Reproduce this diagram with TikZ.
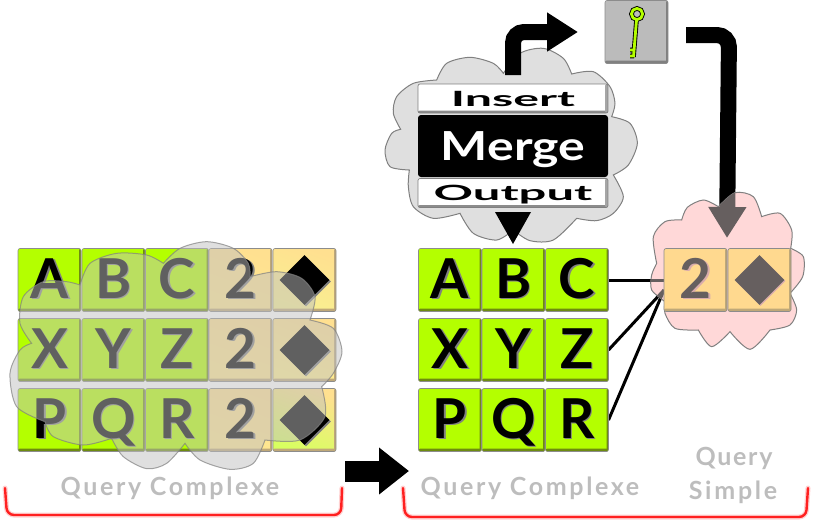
\documentclass[tikz,border=0pt]{standalone}
\usepackage{fontspec}
\usepackage{graphicx}
\usetikzlibrary{arrows.meta,shapes.geometric,shadows,backgrounds}
\setmainfont{Lato}
\definecolor{cellgreen}{HTML}{B4FF00}
\definecolor{cellgreendark}{HTML}{6E8C10}
\definecolor{cellorange}{HTML}{FFD98F}
\definecolor{cellorangetop}{HTML}{FFE090}
\definecolor{cellorangedark}{HTML}{BFA878}
\definecolor{paleA}{HTML}{FFE890}
\definecolor{paleB}{HTML}{F8F090}
\definecolor{paleC}{HTML}{FFF090}
\definecolor{paleD}{HTML}{D8FF60}
\definecolor{dimink}{HTML}{665F5F}
\definecolor{labelgrey}{HTML}{BDBDBD}
\definecolor{cloudgrey}{HTML}{DFDFDF}
\definecolor{cloudpink}{HTML}{FFD8D8}
\definecolor{keygrey}{HTML}{BBBBBB}
\definecolor{bracered}{HTML}{FF2020}
\definecolor{veil}{HTML}{C0C0C0}

% Letter with a small offset shadow behind it
\newcommand{\shadowed}[2]{\leavevmode\rlap{\kern1.6pt\raisebox{-1.6pt}{\textcolor{#2}{#1}}}#1}

\tikzset{
  tile/.style={
    rounded corners=2pt, draw=black!45, line width=.6pt,
    minimum width=63pt, minimum height=63pt, inner sep=0pt, outer sep=0pt,
    text height=36pt, text depth=0pt,
    font=\fontsize{55}{55}\selectfont\bfseries,
    path picture={
      \fill[#1] (path picture bounding box.south west) rectangle
        ([yshift=3pt]path picture bounding box.south east);
      \fill[#1] ([xshift=-2pt]path picture bounding box.south east) rectangle
        (path picture bounding box.north east);
    }},
  greentile/.style={tile=cellgreendark, fill=cellgreen},
  orangetile/.style={tile=cellorangedark, fill=cellorange},
  paletile/.style={tile=cellorangedark, top color=cellorangetop, bottom color=#1, shading angle=-20},
  keytile/.style={tile=black!50, fill=keygrey},
  gem/.style={diamond, aspect=1, minimum width=50pt, minimum height=50pt, inner sep=0pt,
    fill=#1},
  gemshadow/.style={general shadow={shadow xshift=1.5pt, shadow yshift=-1.5pt, fill=gray}},
  slab/.style={rounded corners=2pt, draw=black!50, line width=.7pt, fill=white,
    minimum width=190pt, minimum height=29pt, inner sep=0pt, text height=15pt, text depth=0pt,
    path picture={
      \fill[black!45] (path picture bounding box.south west) rectangle
        ([yshift=2.5pt]path picture bounding box.south east);
      \fill[black!35] ([xshift=-3pt]path picture bounding box.south east) rectangle
        (path picture bounding box.north east);
    }},
  caption/.style={text=labelgrey, inner sep=0pt,
    font=\fontsize{25}{25}\selectfont\bfseries\addfontfeature{LetterSpace=#1}},
  cloudline/.style={draw=black!50, line width=1pt},
  bracket/.style={rounded corners=7pt, line cap=round},
  leftlobes/.style={shift={(0,230)}, x=.33333pt, y=-.33333pt},
  mergelobes/.style={shift={(380,0)}, x=.33333pt, y=-.33333pt},
  pinklobes/.style={shift={(600,0)}, x=.33333pt, y=-.33333pt},
}

\def\leftcloud{
  plot[smooth] coordinates {(490,100) (540,55) (620,35) (700,55) (745,100) (750,140)}
  -- plot[smooth] coordinates {(750,140) (830,125) (905,145) (945,200) (930,270)}
  -- plot[smooth] coordinates {(930,270) (1000,295) (1026,365) (1000,430) (965,470)}
  -- plot[smooth] coordinates {(965,470) (975,560) (900,630) (795,630)}
  -- plot[smooth] coordinates {(795,630) (760,700) (690,718) (600,690) (555,640)}
  -- plot[smooth] coordinates {(555,640) (500,700) (440,716) (370,680) (335,625)}
  -- plot[smooth] coordinates {(335,625) (250,645) (160,620) (135,575)}
  -- plot[smooth] coordinates {(135,575) (50,530) (30,430) (60,360) (95,340)}
  -- plot[smooth] coordinates {(95,340) (60,280) (70,200) (130,155) (200,155) (240,165)}
  -- plot[smooth] coordinates {(240,165) (270,100) (350,70) (440,75) (490,100)}
  -- cycle}

\def\mergecloud{
  plot[smooth] coordinates {(170,240) (200,190) (270,172) (340,190) (370,220)}
  -- plot[smooth] coordinates {(370,220) (420,160) (490,145) (550,175) (575,222)}
  -- plot[smooth] coordinates {(575,222) (640,215) (690,260) (705,310) (695,350)}
  -- plot[smooth] coordinates {(695,350) (750,370) (772,430) (745,495) (700,525)}
  -- plot[smooth] coordinates {(700,525) (730,590) (700,640) (650,662) (590,655)}
  -- plot[smooth] coordinates {(590,655) (520,720) (450,722) (400,690)}
  -- plot[smooth] coordinates {(400,690) (350,720) (280,700) (240,640)}
  -- plot[smooth] coordinates {(240,640) (160,655) (100,620) (85,560) (88,510)}
  -- plot[smooth] coordinates {(88,510) (30,500) (15,450) (35,400) (62,388)}
  -- plot[smooth] coordinates {(62,388) (40,340) (50,290) (100,250) (170,240)}
  -- cycle}

\def\pinkcloud{
  plot[smooth] coordinates {(245,660) (262,622) (310,600) (355,620)}
  -- plot[smooth] coordinates {(355,620) (405,578) (460,590) (485,650)}
  -- plot[smooth] coordinates {(485,650) (540,640) (575,690) (572,745)}
  -- plot[smooth] coordinates {(572,745) (610,770) (608,830) (570,880)}
  -- plot[smooth] coordinates {(570,880) (590,930) (570,975) (510,990)}
  -- plot[smooth] coordinates {(510,990) (450,1048) (390,995)}
  -- plot[smooth] coordinates {(390,995) (335,1040) (295,990)}
  -- plot[smooth] coordinates {(295,990) (225,985) (195,940) (195,905)}
  -- plot[smooth] coordinates {(195,905) (155,870) (155,825) (170,790)}
  -- plot[smooth] coordinates {(170,790) (160,710) (195,665) (245,660)}
  -- cycle}

\def\keyshape{
  (637,14) circle[radius=5.6pt]
  (636.5,20) -- (633.5,57)
  (634,50) -- (630,50)
  (634,56) -- (630,56)}

\begin{document}
\begin{tikzpicture}[x=1pt,y=-1pt]
\useasboundingbox (0,0) rectangle (813,520);

% --- left table ---
\node[greentile] (la) at (49.5,280) {\shadowed{A}{gray}};
\node[greentile] (lb) at (113.5,280) {\shadowed{B}{gray}};
\node[greentile] (lc) at (177,280) {\shadowed{C}{gray}};
\node[paletile=paleA] (ln1) at (240.5,280) {\shadowed{2}{gray}};
\node[paletile=paleB] (ld1) at (304.5,280) {};
\node[greentile] (lx) at (49.5,350) {\shadowed{X}{gray}};
\node[greentile] (ly) at (113.5,350) {\shadowed{Y}{gray}};
\node[greentile] (lz) at (177,350) {\shadowed{Z}{gray}};
\node[paletile=paleA] (ln2) at (240.5,350) {\shadowed{2}{gray}};
\node[paletile=paleC] (ld2) at (304.5,350) {};
\node[greentile] (lp) at (49.5,420) {\shadowed{P}{gray}};
\node[greentile] (lq) at (113.5,420) {\shadowed{Q}{gray}};
\node[greentile] (lr) at (177,420) {\shadowed{R}{gray}};
\node[paletile=paleA] (ln3) at (240.5,420) {\shadowed{2}{gray}};
\node[paletile=paleD] (ld3) at (304.5,420) {};
\node[gem=black, gemshadow] (g1) at (ld1.center) {};
\node[gem=black, gemshadow] (g2) at (ld2.center) {};
\node[gem=black, gemshadow] (g3) at (ld3.center) {};
\fill[leftlobes, fill=veil, fill opacity=.5] \leftcloud;
\draw[leftlobes, cloudline, draw opacity=.7] \leftcloud;

\node[caption=10.5] (leftcap) at (170,488) {Query Complexe};
\draw[bracket, red!60, line width=5pt, opacity=.3] (5,488) -- (7,515) -- (341,515) -- (342,488);
\draw[bracket, bracered, line width=2.4pt] (5,488) -- (7,515) -- (341,515) -- (342,488);

% --- transition arrow between the two tables ---
\coordinate (hopstart) at (345,471);
\coordinate (hopend) at (409,471);
\draw[line width=21pt, -{Triangle[length=30pt,width=45pt]}] (hopstart) -- (hopend);

% --- merge cloud and its stacked controls ---
\draw[mergelobes, cloudline, fill=cloudgrey] \mergecloud;
\node[slab] (insert) at (513,98.5) {\scalebox{2.3}[1]{\fontsize{21}{21}\selectfont\bfseries Insert}};
\node[rounded corners=3pt, fill=black, text=white, minimum width=190pt, minimum height=62pt,
  inner sep=0pt, text height=28pt, text depth=0pt,
  font=\fontsize{40}{40}\selectfont\bfseries] (merge) at (513,146)
  {\scalebox{1.25}[1]{Merge}};
\node[slab] (output) at (513,193) {\scalebox{2.33}[1]{\fontsize{21}{21}\selectfont\bfseries Output}};
\fill (495,212) -- (531,212) -- (513,244) -- cycle;

% --- upper arrow from the merge cloud to the key ---
\coordinate (upstart) at (513,75);
\coordinate (upbend) at (513,32);
\coordinate (upend) at (578,32);
\draw[line width=16pt, rounded corners=11pt, -{Triangle[length=31pt,width=37pt]}]
  (upstart) -- (upbend) -- (upend);

% --- key button ---
\node[keytile] (key) at (636.5,32) {};
\draw[black, line width=4.6pt] \keyshape;
\draw[cellgreen, line width=2.8pt] \keyshape;

% --- right table ---
\node[greentile] (ra) at (450,280) {\shadowed{A}{gray}};
\node[greentile] (rb) at (513.5,280) {\shadowed{B}{gray}};
\node[greentile] (rc) at (577,280) {\shadowed{C}{gray}};
\node[greentile] (rx) at (450,350) {\shadowed{X}{gray}};
\node[greentile] (ry) at (513.5,350) {\shadowed{Y}{gray}};
\node[greentile] (rz) at (577,350) {\shadowed{Z}{gray}};
\node[greentile] (rp) at (450,420) {\shadowed{P}{gray}};
\node[greentile] (rq) at (513.5,420) {\shadowed{Q}{gray}};
\node[greentile] (rr) at (577,420) {\shadowed{R}{gray}};

% --- simple query cells ---
\node[orangetile, text=dimink] (sn) at (695.5,280) {\shadowed{2}{pink!70!gray}};
\node[orangetile] (sd) at (759.5,280) {};
\node[gem=dimink, general shadow={shadow xshift=1pt, shadow yshift=-1pt, fill=pink!70!gray}] (sg) at (sd.center) {};

\coordinate (joinpoint) at (664,290);
\coordinate (downstart) at (686,35);
\coordinate (downbend) at (729,35);
\coordinate (downend) at (727,238);

% --- links and the long arrow, black outside the pink cloud, dim inside it ---
\begin{pgfonlayer}{background}
  \draw[line width=3pt] (rc.east) -- (sn.west);
  \draw[line width=3pt] (rz.east) -- (joinpoint);
  \draw[line width=3pt] (rr.east) -- (joinpoint);
  \draw[line width=16pt, rounded corners=12pt, -{Triangle[length=31pt,width=36pt]}]
    (downstart) -- (downbend) -- (downend);
  \draw[pinklobes, cloudline, fill=cloudpink] \pinkcloud;
  \begin{scope}
    \clip[pinklobes] \pinkcloud;
    \draw[line width=3pt, dimink] (rc.east) -- (sn.west);
    \draw[line width=3pt, dimink] (rz.east) -- (joinpoint);
    \draw[line width=3pt, dimink] (rr.east) -- (joinpoint);
    \draw[line width=16pt, dimink, rounded corners=12pt, -{Triangle[length=31pt,width=36pt]}]
      (downstart) -- (downbend) -- (downend);
  \end{scope}
\end{pgfonlayer}

% --- captions of the right part ---
\node[caption=10.5] (rightcap) at (530,488) {Query Complexe};
\node[caption=7] (simpleone) at (734,458) {Query};
\node[caption=11] (simpletwo) at (733,492) {Simple};
\draw[bracket, red!60, line width=5pt, opacity=.3] (403,488) -- (405,517) -- (806,517) -- (808,488);
\draw[bracket, bracered, line width=2.4pt] (403,488) -- (405,517) -- (806,517) -- (808,488);
\end{tikzpicture}
\end{document}
